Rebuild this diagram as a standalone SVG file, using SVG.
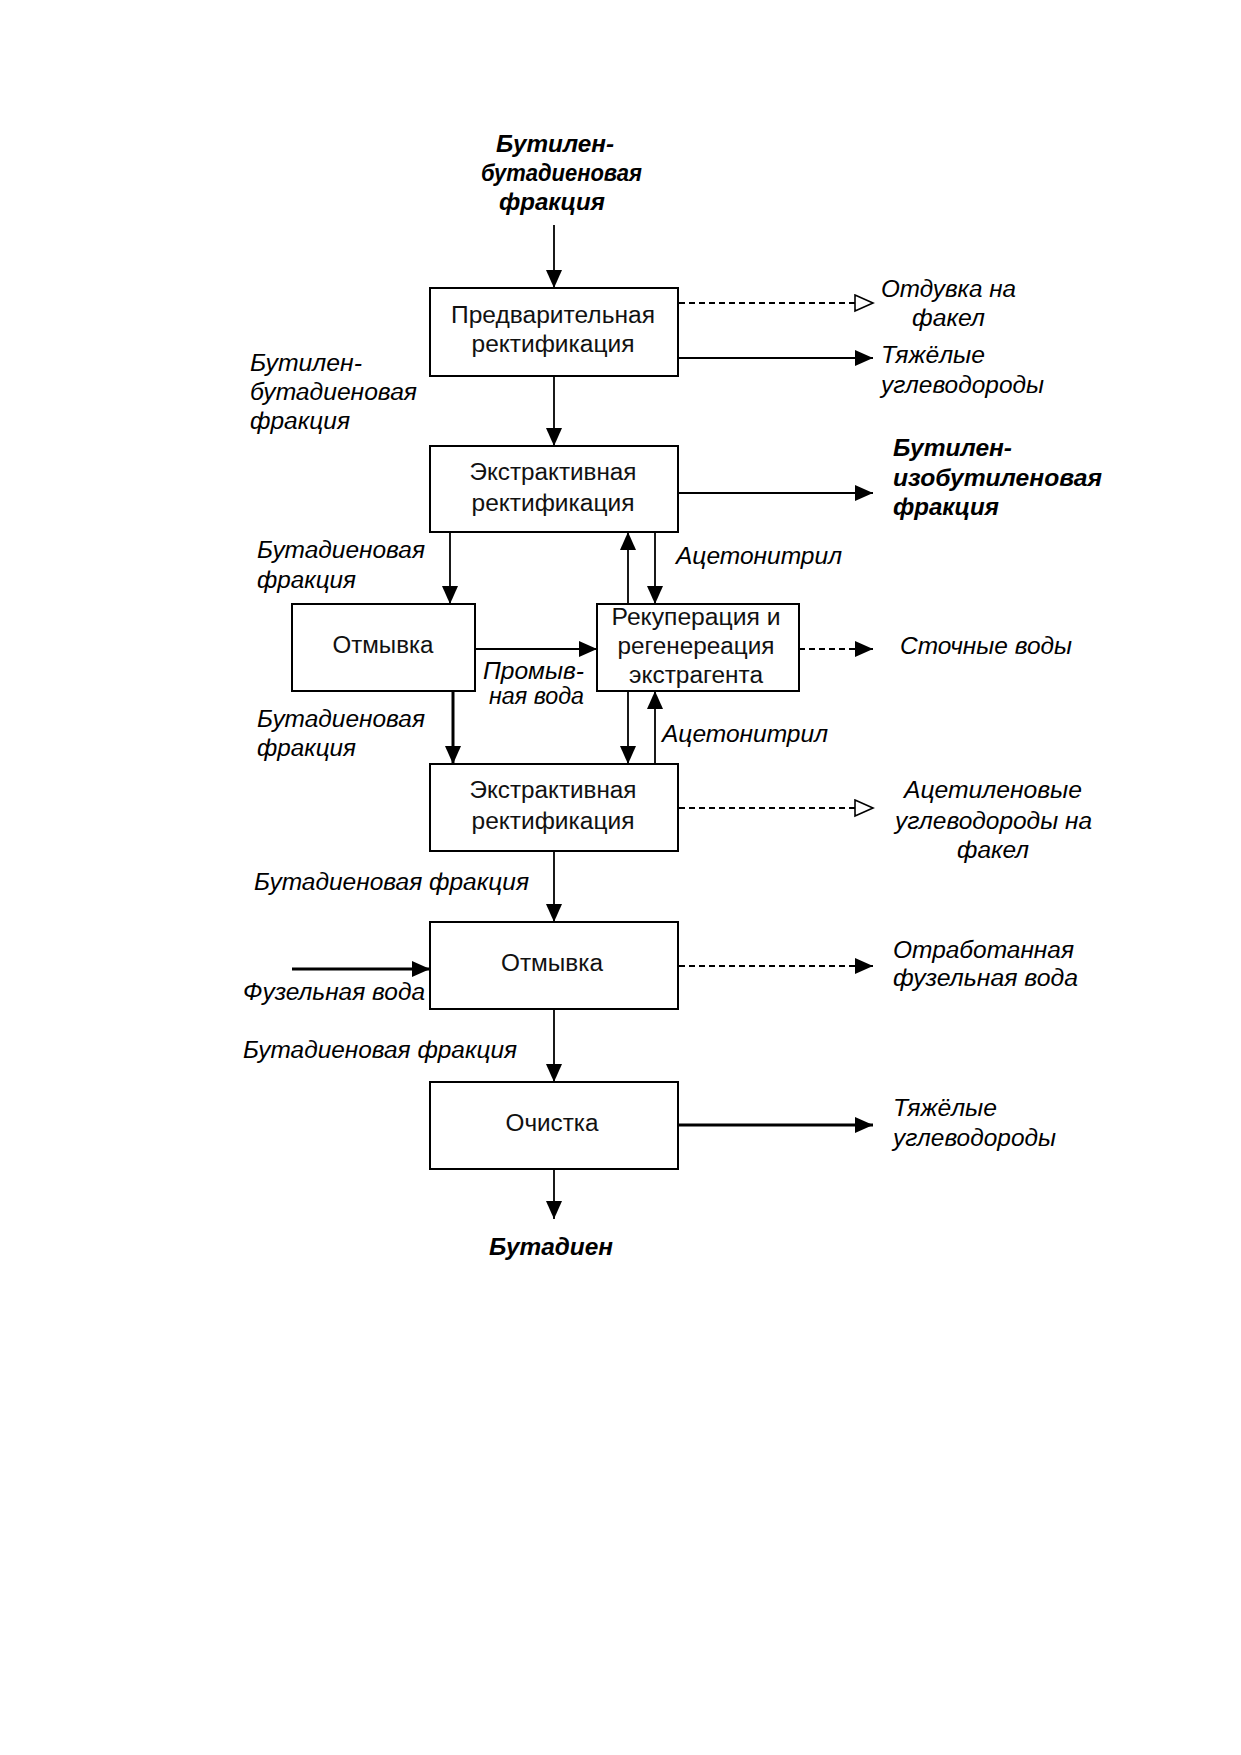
<svg xmlns="http://www.w3.org/2000/svg" width="1241" height="1755" viewBox="0 0 1241 1755">
<style>
.box{fill:#fff;stroke:#000;stroke-width:2}
.bt{font-family:"Liberation Sans",Arial,sans-serif;font-size:23px;fill:#111;text-anchor:middle}
.lb{font-family:"Liberation Sans",Arial,sans-serif;font-size:23px;font-style:italic;fill:#000}
.bb{font-weight:bold}
.ln{stroke:#000;stroke-width:1.8;fill:none}
.th{stroke-width:3}
.ds{stroke-dasharray:6 4}
.f{marker-end:url(#af)}
.h{marker-end:url(#ah)}
</style>
<defs>
<marker id="af" markerUnits="userSpaceOnUse" markerWidth="20" markerHeight="18" refX="18" refY="8" orient="auto" viewBox="0 0 20 18"><path d="M0,0 L18,8 L0,16 z" fill="#000"/></marker>
<marker id="ah" markerUnits="userSpaceOnUse" markerWidth="22" markerHeight="20" refX="19" refY="9" orient="auto" viewBox="0 0 22 20"><path d="M1,1 L19,9 L1,17 z" fill="#fff" stroke="#000" stroke-width="1.6"/></marker>
</defs>
<rect width="1241" height="1755" fill="#fff"/>

<g id="connectors">
<line class="ln f" x1="554" y1="225" x2="554" y2="288"/>
<line class="ln ds h" x1="679" y1="303" x2="873" y2="303"/>
<line class="ln f" x1="679" y1="358" x2="873" y2="358"/>
<line class="ln f" x1="554" y1="376" x2="554" y2="446"/>
<line class="ln f" x1="679" y1="493" x2="873" y2="493"/>
<line class="ln f" x1="450" y1="532" x2="450" y2="604"/>
<line class="ln f" x1="628" y1="604" x2="628" y2="532"/>
<line class="ln f" x1="655" y1="532" x2="655" y2="604"/>
<line class="ln f" x1="475" y1="649" x2="597" y2="649"/>
<line class="ln ds f" x1="799" y1="649" x2="873" y2="649"/>
<line class="ln th f" x1="453" y1="691" x2="453" y2="764"/>
<line class="ln f" x1="628" y1="691" x2="628" y2="764"/>
<line class="ln f" x1="655" y1="764" x2="655" y2="691"/>
<line class="ln ds h" x1="679" y1="808" x2="873" y2="808"/>
<line class="ln f" x1="554" y1="851" x2="554" y2="922"/>
<line class="ln th f" x1="292" y1="969" x2="430" y2="969"/>
<line class="ln ds f" x1="679" y1="966" x2="873" y2="966"/>
<line class="ln f" x1="554" y1="1009" x2="554" y2="1082"/>
<line class="ln th f" x1="679" y1="1125" x2="873" y2="1125"/>
<line class="ln f" x1="554" y1="1169" x2="554" y2="1219"/>
</g>

<g id="n1">
<rect class="box" x="430" y="288" width="248" height="88"/>
<text class="bt" x="553" y="323" textLength="204" lengthAdjust="spacingAndGlyphs">Предварительная</text>
<text class="bt" x="553" y="352" textLength="163" lengthAdjust="spacingAndGlyphs">ректификация</text>
</g>
<g id="n2">
<rect class="box" x="430" y="446" width="248" height="86"/>
<text class="bt" x="553" y="480" textLength="167" lengthAdjust="spacingAndGlyphs">Экстрактивная</text>
<text class="bt" x="553" y="511" textLength="163" lengthAdjust="spacingAndGlyphs">ректификация</text>
</g>
<g id="n3">
<rect class="box" x="292" y="604" width="183" height="87"/>
<text class="bt" x="383" y="653" textLength="101" lengthAdjust="spacingAndGlyphs">Отмывка</text>
</g>
<g id="n4">
<rect class="box" x="597" y="604" width="202" height="87"/>
<text class="bt" x="696" y="625" textLength="169" lengthAdjust="spacingAndGlyphs">Рекуперация и</text>
<text class="bt" x="696" y="654" textLength="157" lengthAdjust="spacingAndGlyphs">регенереация</text>
<text class="bt" x="696" y="683" textLength="134" lengthAdjust="spacingAndGlyphs">экстрагента</text>
</g>
<g id="n5">
<rect class="box" x="430" y="764" width="248" height="87"/>
<text class="bt" x="553" y="798" textLength="167" lengthAdjust="spacingAndGlyphs">Экстрактивная</text>
<text class="bt" x="553" y="829" textLength="163" lengthAdjust="spacingAndGlyphs">ректификация</text>
</g>
<g id="n6">
<rect class="box" x="430" y="922" width="248" height="87"/>
<text class="bt" x="552" y="971" textLength="102" lengthAdjust="spacingAndGlyphs">Отмывка</text>
</g>
<g id="n7">
<rect class="box" x="430" y="1082" width="248" height="87"/>
<text class="bt" x="552" y="1131" textLength="93" lengthAdjust="spacingAndGlyphs">Очистка</text>
</g>

<g id="labels">
<text class="lb bb" x="496" y="152" textLength="118" lengthAdjust="spacingAndGlyphs">Бутилен-</text>
<text class="lb bb" x="481" y="181" textLength="161" lengthAdjust="spacingAndGlyphs">бутадиеновая</text>
<text class="lb bb" x="499" y="210" textLength="106" lengthAdjust="spacingAndGlyphs">фракция</text>

<text class="lb" x="881" y="297" textLength="135" lengthAdjust="spacingAndGlyphs">Отдувка на</text>
<text class="lb" x="912" y="326" textLength="73" lengthAdjust="spacingAndGlyphs">факел</text>
<text class="lb" x="881" y="363" textLength="104" lengthAdjust="spacingAndGlyphs">Тяжёлые</text>
<text class="lb" x="881" y="393" textLength="163" lengthAdjust="spacingAndGlyphs">углеводороды</text>

<text class="lb" x="250" y="371" textLength="112" lengthAdjust="spacingAndGlyphs">Бутилен-</text>
<text class="lb" x="250" y="400" textLength="167" lengthAdjust="spacingAndGlyphs">бутадиеновая</text>
<text class="lb" x="250" y="429" textLength="100" lengthAdjust="spacingAndGlyphs">фракция</text>

<text class="lb bb" x="893" y="456" textLength="119" lengthAdjust="spacingAndGlyphs">Бутилен-</text>
<text class="lb bb" x="893" y="486" textLength="209" lengthAdjust="spacingAndGlyphs">изобутиленовая</text>
<text class="lb bb" x="893" y="515" textLength="106" lengthAdjust="spacingAndGlyphs">фракция</text>

<text class="lb" x="257" y="558" textLength="168" lengthAdjust="spacingAndGlyphs">Бутадиеновая</text>
<text class="lb" x="257" y="588" textLength="99" lengthAdjust="spacingAndGlyphs">фракция</text>
<text class="lb" x="676" y="564" textLength="166" lengthAdjust="spacingAndGlyphs">Ацетонитрил</text>

<text class="lb" x="900" y="654" textLength="172" lengthAdjust="spacingAndGlyphs">Сточные воды</text>
<text class="lb" x="483" y="679" textLength="101" lengthAdjust="spacingAndGlyphs">Промыв-</text>
<text class="lb" x="489" y="704" textLength="95" lengthAdjust="spacingAndGlyphs">ная вода</text>

<text class="lb" x="257" y="727" textLength="168" lengthAdjust="spacingAndGlyphs">Бутадиеновая</text>
<text class="lb" x="257" y="756" textLength="99" lengthAdjust="spacingAndGlyphs">фракция</text>
<text class="lb" x="662" y="742" textLength="166" lengthAdjust="spacingAndGlyphs">Ацетонитрил</text>

<text class="lb" x="904" y="798" textLength="178" lengthAdjust="spacingAndGlyphs">Ацетиленовые</text>
<text class="lb" x="895" y="829" textLength="197" lengthAdjust="spacingAndGlyphs">углеводороды на</text>
<text class="lb" x="957" y="858" textLength="72" lengthAdjust="spacingAndGlyphs">факел</text>

<text class="lb" x="254" y="890" textLength="275" lengthAdjust="spacingAndGlyphs">Бутадиеновая фракция</text>
<text class="lb" x="243" y="1000" textLength="182" lengthAdjust="spacingAndGlyphs">Фузельная вода</text>
<text class="lb" x="893" y="958" textLength="181" lengthAdjust="spacingAndGlyphs">Отработанная</text>
<text class="lb" x="893" y="986" textLength="185" lengthAdjust="spacingAndGlyphs">фузельная вода</text>

<text class="lb" x="243" y="1058" textLength="274" lengthAdjust="spacingAndGlyphs">Бутадиеновая фракция</text>
<text class="lb" x="893" y="1116" textLength="104" lengthAdjust="spacingAndGlyphs">Тяжёлые</text>
<text class="lb" x="893" y="1146" textLength="163" lengthAdjust="spacingAndGlyphs">углеводороды</text>

<text class="lb bb" x="489" y="1255" textLength="124" lengthAdjust="spacingAndGlyphs">Бутадиен</text>
</g>
</svg>
